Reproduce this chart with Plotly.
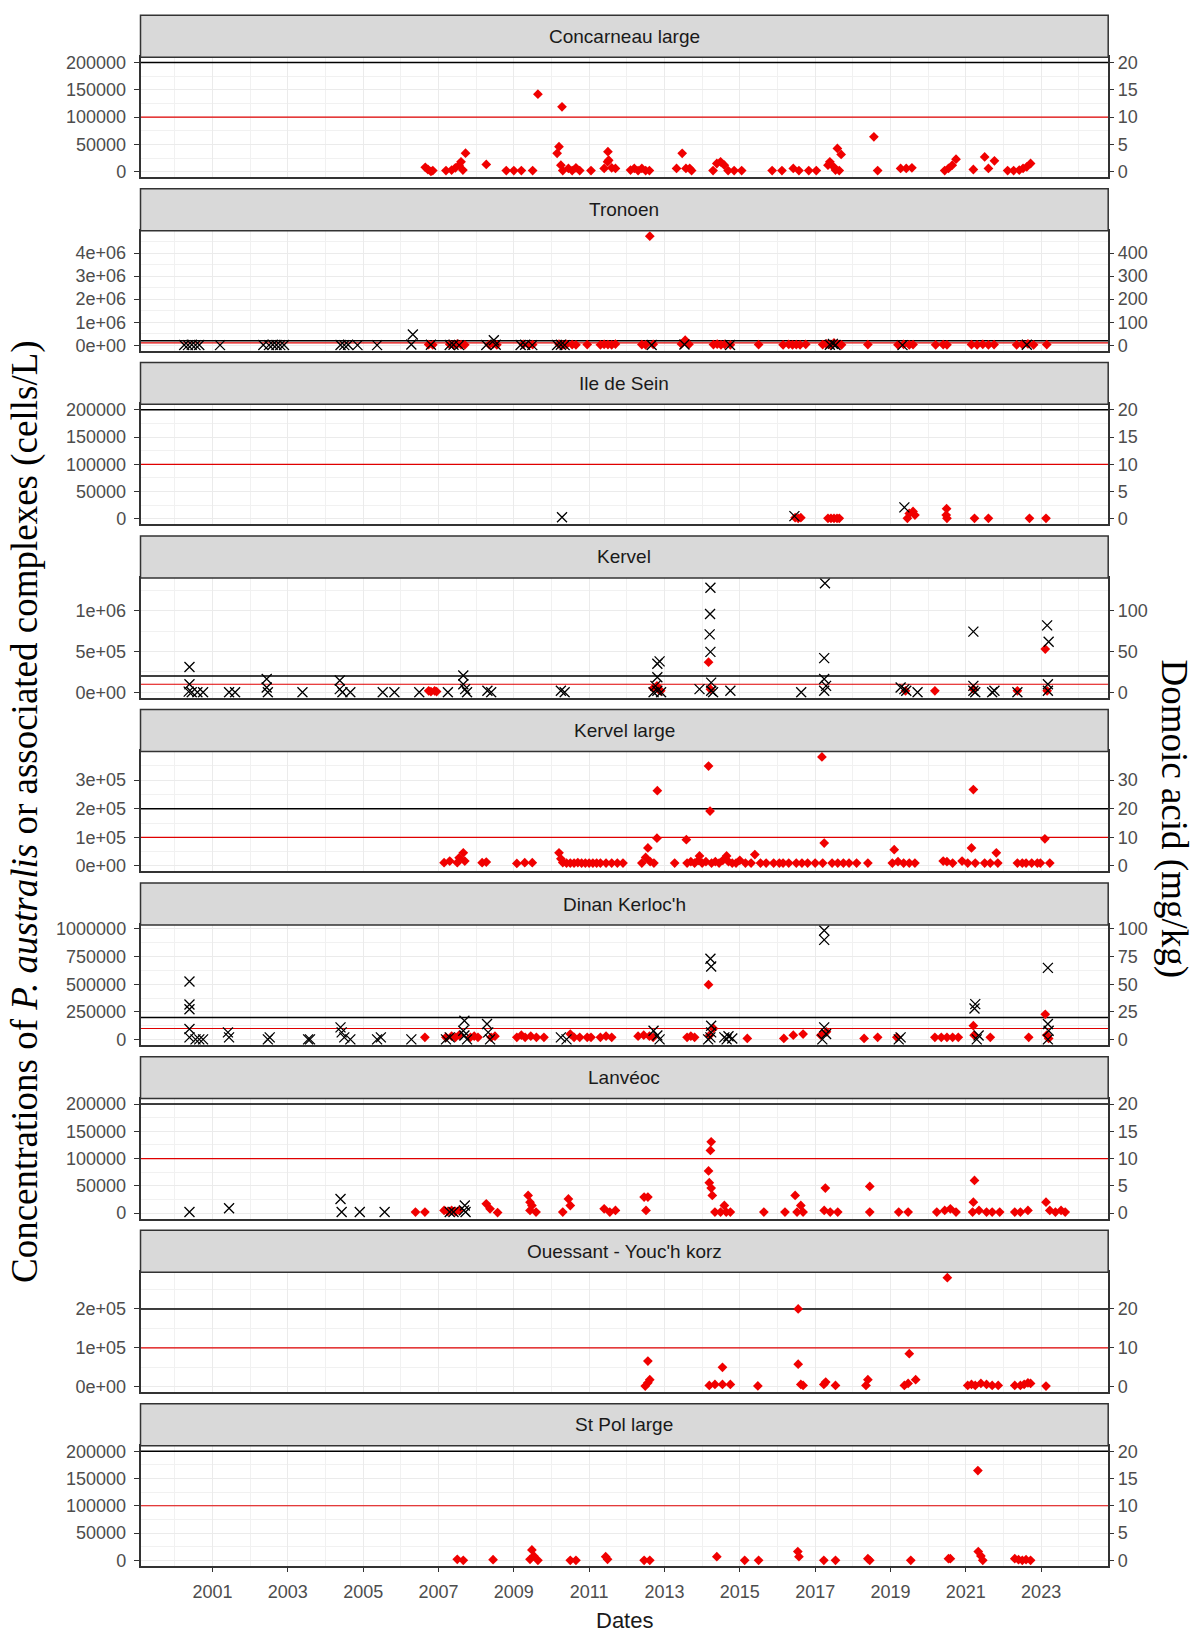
import numpy as np
import pandas as pd
import plotly.graph_objects as go

# ---------------------------------------------------------------------------
# Thresholds
CELL_THRESHOLD = 100000      # cells/L alert level (red line)
DA_THRESHOLD = 20            # mg/kg regulatory limit (black line)
DA_SCALE = 10000             # cells/L per mg/kg on the secondary axis

# ---------------------------------------------------------------------------
# Concarneau large
CONC_CELL_T = [2006.65, 2006.72, 2006.8, 2006.85, 2007.2, 2007.35, 2007.45, 2007.55, 2007.6, 2007.65, 2007.72,
               2008.27, 2008.8, 2009.0, 2009.2, 2009.5, 2009.64, 2010.15, 2010.2, 2010.28, 2010.25, 2010.3,
               2010.45, 2010.55, 2010.65, 2010.75, 2011.05, 2011.4, 2011.49, 2011.5, 2011.52, 2011.6, 2011.7,
               2012.1, 2012.2, 2012.3, 2012.4, 2012.5, 2012.6, 2013.32, 2013.47, 2013.57, 2013.67, 2013.72,
               2014.29, 2014.39, 2014.49, 2014.59, 2014.69, 2014.85, 2015.05, 2015.86, 2016.12, 2016.42,
               2016.57, 2016.83, 2017.03, 2017.34, 2017.39, 2017.49, 2017.59, 2017.69, 2017.54, 2017.64,
               2018.56, 2018.66, 2019.27, 2019.42, 2019.57, 2020.44, 2020.54, 2020.64, 2020.74, 2021.2,
               2021.5, 2021.6, 2021.76, 2022.11, 2022.27, 2022.42, 2022.52, 2022.62, 2022.72]
CONC_CELL_V = [8000, 4000, 500, 2000, 2000, 3000, 7000, 12000, 18000, 3000, 34000,
               13400, 2000, 2000, 2000, 2000, 142000, 33600, 45800, 119000, 12000, 2000,
               6000, 2000, 7000, 2000, 2000, 6000, 18000, 36600, 21000, 7000, 6000,
               3000, 6000, 2000, 6000, 2000, 2000, 6000, 33600, 6000, 6000, 2000,
               2000, 15000, 18000, 12000, 2000, 2000, 2000, 2000, 2000, 6000,
               2000, 2000, 2000, 12000, 18000, 9000, 42700, 31700, 3000, 2000,
               64000, 2000, 6000, 6000, 7000, 2000, 6000, 12000, 23000, 4000,
               27000, 6000, 20000, 2000, 2000, 3000, 6000, 9000, 15000]
CONC_DA_T = []
CONC_DA_V = []

# Tronoen
TRON_CELL_T = [2006.74, 2006.85, 2007.3, 2007.4, 2007.5, 2007.6, 2007.7, 2008.35, 2008.45, 2008.55,
               2009.25, 2009.4, 2009.5, 2010.2, 2010.3, 2010.4, 2010.55, 2010.65, 2010.95,
               2011.3, 2011.4, 2011.5, 2011.6, 2011.7, 2012.4, 2012.5, 2012.61, 2012.7,
               2013.45, 2013.55, 2013.65, 2014.3, 2014.4, 2014.5, 2014.6, 2014.75, 2015.5,
               2016.15, 2016.3, 2016.4, 2016.5, 2016.6, 2016.75, 2017.2, 2017.3, 2017.4, 2017.5,
               2017.6, 2017.7, 2018.4, 2019.2, 2019.35, 2019.5, 2019.6, 2020.2, 2020.4, 2020.5,
               2021.15, 2021.3, 2021.45, 2021.6, 2021.75, 2022.35, 2022.5, 2022.65, 2022.8, 2023.15]
TRON_CELL_V = [30000, 20000, 40000, 20000, 60000, 30000, 20000, 30000, 60000, 20000,
               40000, 20000, 30000, 50000, 20000, 40000, 30000, 20000, 30000,
               20000, 40000, 30000, 20000, 50000, 30000, 20000, 4730000, 40000,
               60000, 218000, 40000, 30000, 50000, 20000, 40000, 20000, 30000,
               20000, 40000, 20000, 30000, 20000, 40000, 30000, 60000, 20000, 100000,
               40000, 20000, 30000, 20000, 40000, 20000, 30000, 20000, 30000, 20000,
               30000, 20000, 40000, 20000, 30000, 20000, 40000, 60000, 20000, 30000]
TRON_DA_T = [2000.25, 2000.35, 2000.45, 2000.55, 2000.65, 2001.2, 2002.35, 2002.5, 2002.6, 2002.7,
             2002.8, 2002.9, 2004.4, 2004.5, 2004.6, 2004.85, 2005.37, 2006.28, 2006.32, 2006.8,
             2007.3, 2007.4, 2007.55, 2008.27, 2008.47, 2008.52, 2009.18, 2009.3, 2009.49,
             2010.15, 2010.25, 2010.35, 2012.66, 2013.53, 2014.74, 2017.39, 2017.47, 2017.54,
             2019.32, 2022.62]
TRON_DA_V = [1, 0.5, 2, 0.5, 1, 0.5, 1, 0.5, 2, 1,
             0.5, 1, 1, 0.5, 2, 0.5, 0.5, 3, 46.5, 2,
             1, 2, 0.5, 1, 22, 2, 1, 2, 0.5,
             1, 2, 0.5, 1, 3, 1, 2, 6, 1,
             0.5, 2]

# Ile de Sein
SEIN_CELL_T = [2016.47, 2016.55, 2016.62, 2017.34, 2017.42, 2017.5, 2017.58, 2017.64, 2019.5, 2019.6,
               2019.45, 2019.65, 2020.49, 2020.5, 2020.48, 2021.23, 2021.6, 2022.69, 2023.13]
SEIN_CELL_V = [2000, 1000, 2000, 1000, 1000, 1000, 1000, 1000, 10000, 13500,
               1000, 7000, 18500, 1000, 7000, 1000, 1000, 1000, 1000]
SEIN_DA_T = [2010.28, 2016.45, 2019.37]
SEIN_DA_V = [0.3, 0.5, 2.1]

# Kervel
KERV_CELL_T = [2006.74, 2006.8, 2006.9, 2006.95, 2012.7, 2012.8, 2012.85, 2012.9, 2014.17, 2014.22,
               2019.4, 2020.18, 2021.2, 2022.37, 2023.11, 2023.16]
KERV_CELL_V = [20000, 10000, 20000, 10000, 50000, 80000, 30000, 20000, 370000, 40000,
               20000, 20000, 40000, 20000, 530000, 20000]
KERV_DA_T = [2000.39, 2000.39, 2000.37, 2000.45, 2000.6, 2000.75, 2001.44, 2001.6, 2002.44, 2002.44,
             2002.47, 2003.39, 2004.38, 2004.38, 2004.45, 2004.66, 2005.52, 2005.83, 2006.49, 2007.25,
             2007.66, 2007.66, 2007.71, 2007.76, 2008.3, 2008.4, 2010.25, 2010.35, 2012.81, 2012.87,
             2012.81, 2012.76, 2012.81, 2012.91, 2012.71, 2013.93, 2014.22, 2014.21, 2014.2, 2014.22,
             2014.24, 2014.24, 2014.29, 2014.75, 2016.63, 2017.26, 2017.24, 2017.24, 2017.29, 2017.24,
             2019.27, 2019.37, 2019.42, 2019.72, 2021.2, 2021.2, 2021.2, 2021.25, 2021.7, 2021.76,
             2022.37, 2023.16, 2023.2, 2023.18, 2023.18]
KERV_DA_V = [31, 10, 1, 0.2, 0.2, 0.2, 0.2, 0.2, 16.5, 6,
             0.2, 0.2, 14.5, 4, 0.2, 0.2, 0.2, 0.2, 0.2, 0.2,
             20.7, 10, 4, 0.2, 2, 0.2, 2, 0.2, 35, 38,
             18.6, 8, 2, 0.2, 0.2, 4, 128, 96, 71, 49.6,
             12, 2, 0.2, 2, 0.2, 133.5, 42, 16.5, 8, 2,
             6, 4, 2, 0.2, 74.4, 8, 2, 0.2, 0.2, 2,
             0.2, 82, 62, 10, 2]

# Kervel large
KLRG_CELL_T = [2007.15, 2007.3, 2007.5, 2007.66, 2007.7, 2007.55, 2008.16, 2008.27, 2009.08, 2009.29,
               2009.49, 2010.2, 2010.25, 2010.3, 2010.4, 2010.5, 2010.6, 2010.7, 2010.8, 2010.9,
               2011.0, 2011.1, 2011.2, 2011.3, 2011.45, 2011.6, 2011.75, 2011.9, 2012.4, 2012.5,
               2012.56, 2012.62, 2012.72, 2012.8, 2012.81, 2013.27, 2013.58, 2013.6, 2013.7, 2013.8,
               2013.9, 2013.93, 2014.0, 2014.1, 2014.17, 2014.21, 2014.25, 2014.35, 2014.45, 2014.55,
               2014.65, 2014.7, 2014.8, 2014.9, 2015.0, 2015.15, 2015.3, 2015.4, 2015.55, 2015.7,
               2015.9, 2016.05, 2016.15, 2016.3, 2016.5, 2016.65, 2016.8, 2017.0, 2017.18, 2017.24,
               2017.2, 2017.45, 2017.6, 2017.75, 2017.9, 2018.1, 2018.4, 2019.05, 2019.1, 2019.2,
               2019.35, 2019.5, 2019.65, 2020.4, 2020.5, 2020.65, 2020.9, 2021.05, 2021.15, 2021.2,
               2021.25, 2021.5, 2021.65, 2021.81, 2021.85, 2022.37, 2022.5, 2022.6, 2022.75, 2022.9,
               2022.98, 2023.1, 2023.23]
KLRG_CELL_V = [11500, 17000, 11500, 46000, 17000, 28600, 11500, 13700, 9000, 11500,
               11500, 46000, 25000, 12000, 10000, 10000, 10000, 12000, 10000, 10000,
               10000, 10000, 10000, 10000, 10000, 10000, 10000, 10000, 10000, 30000,
               63000, 15000, 10000, 97000, 263000, 10000, 92000, 10000, 15000, 10000,
               20000, 35000, 10000, 15000, 349000, 192000, 10000, 15000, 10000, 20000,
               35000, 15000, 10000, 10000, 20000, 10000, 10000, 40000, 10000, 10000,
               10000, 10000, 10000, 10000, 10000, 10000, 10000, 10000, 381000, 80000,
               10000, 10000, 10000, 10000, 10000, 10000, 10000, 10000, 57000, 15000,
               10000, 10000, 10000, 17000, 15000, 10000, 17000, 10000, 63000, 267000,
               10000, 10000, 10000, 46000, 10000, 10000, 10000, 10000, 10000, 10000,
               10000, 95000, 10000]
KLRG_DA_T = []
KLRG_DA_V = []

# Dinan Kerloc'h
DINA_CELL_T = [2006.64, 2007.2, 2007.35, 2007.45, 2007.55, 2007.85, 2007.95, 2008.05, 2008.4, 2008.5,
               2009.08, 2009.2, 2009.3, 2009.45, 2009.6, 2009.8, 2010.5, 2010.6, 2010.75, 2010.95,
               2011.05, 2011.3, 2011.45, 2011.6, 2012.3, 2012.45, 2012.6, 2012.7, 2013.6, 2013.7,
               2013.8, 2014.17, 2014.2, 2014.3, 2015.2, 2016.17, 2016.42, 2016.68, 2017.15, 2017.3,
               2018.3, 2018.66, 2019.17, 2020.18, 2020.35, 2020.5, 2020.65, 2020.8, 2021.2, 2021.22,
               2021.65, 2022.67, 2023.11, 2023.15, 2023.2]
DINA_CELL_V = [20000, 20000, 30000, 20000, 40000, 20000, 30000, 20000, 20000, 30000,
               20000, 40000, 20000, 30000, 20000, 20000, 50000, 20000, 20000, 20000,
               20000, 20000, 30000, 20000, 30000, 40000, 30000, 20000, 20000, 30000,
               20000, 496000, 40000, 100000, 10000, 10000, 40000, 50000, 40000, 70000,
               10000, 20000, 20000, 20000, 20000, 20000, 20000, 20000, 125000, 40000,
               20000, 20000, 228000, 40000, 10000]
DINA_DA_T = [2000.39, 2000.39, 2000.39, 2000.39, 2000.39, 2000.55, 2000.65, 2000.75, 2001.41, 2001.44,
             2002.47, 2002.52, 2003.54, 2003.59, 2004.4, 2004.43, 2004.5, 2004.66, 2005.37, 2005.47,
             2006.28, 2007.2, 2007.3, 2007.69, 2007.66, 2007.69, 2007.76, 2008.29, 2008.32, 2008.37,
             2010.25, 2010.4, 2012.71, 2012.81, 2012.87, 2014.22, 2014.24, 2014.24, 2014.24, 2014.22,
             2014.16, 2014.59, 2014.65, 2014.7, 2014.8, 2017.24, 2017.24, 2017.24, 2017.29, 2017.19,
             2019.22, 2019.27, 2021.25, 2021.23, 2021.29, 2021.34, 2023.18, 2023.18, 2023.2, 2023.18]
DINA_DA_V = [52.5, 31.7, 27.3, 9.5, 2, 0.2, 0.2, 0.2, 6.5, 2,
             0.2, 2, 0.2, 0.2, 11, 6.5, 2, 0.2, 0.2, 2,
             0.2, 0.2, 2, 17, 8, 3.6, 0.2, 14, 6.5, 0.2,
             2, 0.2, 8, 3.6, 0.2, 73, 66, 12.5, 6.5, 2,
             0.2, 2, 0.2, 3, 1, 98.5, 90, 11, 5, 0.2,
             0.2, 2, 32, 28, 0.2, 3.6, 64.7, 14, 8, 0.2]

# Lanveoc
LANV_CELL_T = [2006.39, 2006.64, 2007.15, 2007.25, 2007.35, 2007.45, 2007.55, 2008.27, 2008.37, 2008.57,
               2009.38, 2009.43, 2009.48, 2009.43, 2009.59, 2010.45, 2010.5, 2010.3, 2011.4, 2011.55,
               2011.7, 2012.46, 2012.56, 2012.51, 2014.24, 2014.22, 2014.17, 2014.19, 2014.24, 2014.27,
               2014.34, 2014.49, 2014.59, 2014.64, 2014.75, 2015.64, 2016.2, 2016.47, 2016.52, 2016.62,
               2016.68, 2017.27, 2017.24, 2017.4, 2017.6, 2018.45, 2018.45, 2019.22, 2019.47, 2020.23,
               2020.44, 2020.59, 2020.74, 2021.23, 2021.2, 2021.18, 2021.35, 2021.55, 2021.7, 2021.9,
               2022.3, 2022.45, 2022.65, 2023.13, 2023.23, 2023.38, 2023.53, 2023.64]
LANV_CELL_V = [2000, 2000, 5000, 3000, 5000, 3000, 5000, 17000, 8000, 1000,
               32500, 20000, 14000, 5000, 2000, 26000, 14000, 2000, 8000, 2000,
               5000, 29500, 29500, 5000, 130800, 115000, 77300, 55800, 46000, 32500,
               2000, 2000, 14000, 2000, 2000, 2000, 2000, 32500, 2000, 14000,
               2000, 46000, 5000, 2000, 2000, 49000, 2000, 2000, 2000, 2000,
               5000, 8000, 2000, 60000, 20000, 2000, 5000, 2000, 2000, 2000,
               2000, 2000, 5000, 20000, 5000, 2000, 5000, 2000]
LANV_DA_T = [2000.39, 2001.44, 2004.4, 2004.43, 2004.91, 2005.57, 2007.3, 2007.4, 2007.7, 2007.68, 2007.72]
LANV_DA_V = [0.2, 0.9, 2.6, 0.2, 0.2, 0.2, 0.2, 0.2, 1.4, 0.5, 0.2]

# Ouessant - Youc'h korz
OUES_CELL_T = [2012.49, 2012.56, 2012.61, 2012.56, 2014.19, 2014.34, 2014.54, 2014.75, 2014.54, 2015.48,
               2016.55, 2016.55, 2016.62, 2016.68, 2017.23, 2017.28, 2017.54, 2018.35, 2018.4, 2019.37,
               2019.47, 2019.5, 2019.67, 2020.51, 2021.05, 2021.15, 2021.25, 2021.4, 2021.55, 2021.7,
               2021.86, 2022.3, 2022.45, 2022.55, 2022.65, 2022.72, 2023.13]
OUES_CELL_V = [1700, 10000, 18000, 66000, 3300, 5800, 5800, 5800, 50000, 2000,
               58000, 200000, 5800, 3300, 5800, 12000, 3300, 3300, 18000, 3300,
               8300, 85000, 18000, 280600, 3300, 5800, 3300, 8300, 5800, 3300,
               3300, 3300, 3300, 5800, 10000, 8300, 1700]
OUES_DA_T = []
OUES_DA_V = []

# St Pol large
SPOL_CELL_T = [2007.5, 2007.66, 2008.45, 2009.43, 2009.48, 2009.53, 2009.64, 2010.5, 2010.65, 2011.44,
               2011.49, 2012.46, 2012.61, 2014.39, 2015.13, 2015.5, 2016.54, 2016.57, 2017.23, 2017.54,
               2018.4, 2018.45, 2019.54, 2020.54, 2020.59, 2021.32, 2021.33, 2021.4, 2021.45, 2022.3,
               2022.4, 2022.5, 2022.6, 2022.72]
SPOL_CELL_V = [1800, 0, 1000, 1800, 19000, 8000, 0, 0, 0, 6700,
               1800, 0, 0, 6700, 0, 0, 16000, 6700, 0, 0,
               3000, 0, 0, 3000, 3000, 164600, 16000, 8000, 0, 3000,
               1000, 0, 1000, 0]
SPOL_DA_T = []
SPOL_DA_V = []

# Facet labels and the tick labels each free y scale shows
SITE_NAMES = ["Concarneau large", "Tronoen", "Ile de Sein", "Kervel", "Kervel large",
              "Dinan Kerloc'h", "Lanvéoc", "Ouessant - Youc'h korz", "St Pol large"]
SITE_DATA = [
    (CONC_CELL_T, CONC_CELL_V, CONC_DA_T, CONC_DA_V),
    (TRON_CELL_T, TRON_CELL_V, TRON_DA_T, TRON_DA_V),
    (SEIN_CELL_T, SEIN_CELL_V, SEIN_DA_T, SEIN_DA_V),
    (KERV_CELL_T, KERV_CELL_V, KERV_DA_T, KERV_DA_V),
    (KLRG_CELL_T, KLRG_CELL_V, KLRG_DA_T, KLRG_DA_V),
    (DINA_CELL_T, DINA_CELL_V, DINA_DA_T, DINA_DA_V),
    (LANV_CELL_T, LANV_CELL_V, LANV_DA_T, LANV_DA_V),
    (OUES_CELL_T, OUES_CELL_V, OUES_DA_T, OUES_DA_V),
    (SPOL_CELL_T, SPOL_CELL_V, SPOL_DA_T, SPOL_DA_V),
]
TICKS_PLAIN = [0, 50000, 100000, 150000, 200000]
LABELS_PLAIN = ["0", "50000", "100000", "150000", "200000"]
Y_TICKS = [
    (TICKS_PLAIN, LABELS_PLAIN),
    ([0, 1e6, 2e6, 3e6, 4e6], ["0e+00", "1e+06", "2e+06", "3e+06", "4e+06"]),
    (TICKS_PLAIN, LABELS_PLAIN),
    ([0, 5e5, 1e6], ["0e+00", "5e+05", "1e+06"]),
    ([0, 1e5, 2e5, 3e5], ["0e+00", "1e+05", "2e+05", "3e+05"]),
    ([0, 250000, 500000, 750000, 1000000], ["0", "250000", "500000", "750000", "1000000"]),
    (TICKS_PLAIN, LABELS_PLAIN),
    ([0, 1e5, 2e5], ["0e+00", "1e+05", "2e+05"]),
    (TICKS_PLAIN, LABELS_PLAIN),
]
YEAR_TICKS = list(range(2001, 2024, 2))
YEAR_MINOR = list(range(2000, 2025, 2))
X_LIMITS = (1999.09, 2024.78)

# ---------------------------------------------------------------------------
W, H = 1197, 1636
PX_LEFT, PX_RIGHT = 140.5, 1108.2
TOP0, PITCH, STRIP_H, PLOT_H = 9.3, 174.75, 42.2, 120.8

TICK_FONT = dict(family="Liberation Sans", size=18, color="#4D4D4D")
GRID = "#EBEBEB"
MINOR_GRID = "#F1F1F1"
BORDER = "#333333"


def to_dates(years):
    out = []
    for y in years:
        yi = int(np.floor(y))
        start, end = pd.Timestamp(yi, 1, 1), pd.Timestamp(yi + 1, 1, 1)
        out.append(start + (end - start) * (y - yi))
    return out


def yf(px):
    return 1 - px / H


xd = [PX_LEFT / W, PX_RIGHT / W]
xrange = to_dates(X_LIMITS)

fig = go.Figure()
layout = dict(width=W, height=H, margin=dict(l=0, r=0, t=0, b=0),
              paper_bgcolor="white", plot_bgcolor="white", showlegend=False)
shapes, annotations = [], []

for i, (name, (ct, cv, dt, dv), (tv, tt)) in enumerate(zip(SITE_NAMES, SITE_DATA, Y_TICKS)):
    xa = "x" if i == 0 else f"x{i + 1}"
    ya_p = "y" if i == 0 else f"y{2 * i + 1}"
    ya_s = f"y{2 * i + 2}"
    strip_top = TOP0 + i * PITCH
    strip_bot = strip_top + STRIP_H
    plot_bot = strip_bot + PLOT_H

    ymax = max([max(cv) if cv else 0,
                (max(dv) * DA_SCALE) if dv else 0,
                DA_THRESHOLD * DA_SCALE])
    yr = [-0.05 * ymax, 1.05 * ymax]
    step = tv[1] - tv[0]
    minor_vals = [tv[0] + (k + 0.5) * step for k in range(-1, 20)
                  if yr[0] <= tv[0] + (k + 0.5) * step <= yr[1]]

    last = i == len(SITE_NAMES) - 1
    xaxis = dict(
        domain=xd, anchor=ya_p, range=xrange, type="date",
        tickvals=to_dates(YEAR_TICKS), ticktext=[str(y) for y in YEAR_TICKS],
        showticklabels=last, ticks="outside" if last else "",
        ticklen=5, tickwidth=1.2, tickcolor=BORDER, tickfont=TICK_FONT,
        ticklabelstandoff=4,
        showgrid=True, gridcolor=GRID, gridwidth=1,
        minor=dict(tickvals=to_dates(YEAR_MINOR), showgrid=True, gridcolor=MINOR_GRID,
                   gridwidth=1, ticks=""),
        showline=True, mirror=True, linecolor=BORDER, linewidth=1.5, zeroline=False,
    )
    if i > 0:
        xaxis["matches"] = "x"
    layout["xaxis" if i == 0 else f"xaxis{i + 1}"] = xaxis
    layout["yaxis" if i == 0 else f"yaxis{2 * i + 1}"] = dict(
        domain=[yf(plot_bot), yf(strip_bot)], anchor=xa, range=yr,
        tickvals=tv, ticktext=tt, ticks="outside", ticklen=5, tickwidth=1.2,
        tickcolor=BORDER, tickfont=TICK_FONT, ticklabelstandoff=4,
        showgrid=True, gridcolor=GRID, gridwidth=1,
        minor=dict(tickvals=minor_vals, showgrid=True, gridcolor=MINOR_GRID, gridwidth=1, ticks=""),
        showline=True, mirror=True, linecolor=BORDER, linewidth=1.5, zeroline=False,
    )
    layout[f"yaxis{2 * i + 2}"] = dict(
        overlaying=ya_p, side="right", anchor=xa,
        range=[v / DA_SCALE for v in yr],
        tickvals=[v / DA_SCALE for v in tv], ticktext=[f"{v / DA_SCALE:g}" for v in tv],
        ticks="outside", ticklen=5, tickwidth=1.2, tickcolor=BORDER, tickfont=TICK_FONT,
        ticklabelstandoff=0, showgrid=False, showline=False, zeroline=False,
    )

    # threshold lines across the whole panel
    fig.add_trace(go.Scatter(
        x=xrange, y=[CELL_THRESHOLD] * 2, mode="lines", xaxis=xa, yaxis=ya_p,
        line=dict(color="#E00000", width=1.2), hoverinfo="skip", cliponaxis=True))
    fig.add_trace(go.Scatter(
        x=xrange, y=[DA_THRESHOLD * DA_SCALE] * 2, mode="lines", xaxis=xa, yaxis=ya_p,
        line=dict(color="black", width=1.5), hoverinfo="skip", cliponaxis=True))
    # cell counts (left axis)
    fig.add_trace(go.Scatter(
        x=to_dates(ct), y=cv, mode="markers", xaxis=xa, yaxis=ya_p,
        marker=dict(symbol="diamond", size=7.5, color="#F00000", line=dict(width=0)),
        hoverinfo="skip"))
    # domoic acid (right axis)
    fig.add_trace(go.Scatter(
        x=to_dates(dt), y=dv, mode="markers", xaxis=xa, yaxis=ya_s,
        marker=dict(symbol="x-thin", size=10, color="black", line=dict(width=1.3, color="black")),
        hoverinfo="skip"))

    # facet strip
    shapes.append(dict(type="rect", xref="paper", yref="paper",
                       x0=xd[0], x1=xd[1], y0=yf(strip_bot), y1=yf(strip_top),
                       fillcolor="#D9D9D9", line=dict(color=BORDER, width=1.5)))
    annotations.append(dict(text=name, xref="paper", yref="paper",
                            x=(xd[0] + xd[1]) / 2, y=yf((strip_top + strip_bot) / 2),
                            showarrow=False, xanchor="center", yanchor="middle",
                            font=dict(family="Liberation Sans", size=19, color="#1A1A1A")))

annotations.append(dict(
    text="Concentrations of <i>P. australis</i> or associated complexes (cells/L)",
    xref="paper", yref="paper", x=25 / W, y=yf(811.5), textangle=-90,
    showarrow=False, xanchor="center", yanchor="middle",
    font=dict(family="Liberation Serif", size=37, color="black")))
annotations.append(dict(
    text="Domoic acid (mg/kg)", xref="paper", yref="paper", x=1174 / W, y=yf(818),
    textangle=90, showarrow=False, xanchor="center", yanchor="middle",
    font=dict(family="Liberation Serif", size=37, color="black")))
annotations.append(dict(
    text="Dates", xref="paper", yref="paper", x=624 / W, y=yf(1625),
    showarrow=False, xanchor="center", yanchor="middle",
    font=dict(family="Liberation Sans", size=22, color="#1A1A1A")))

layout["shapes"] = shapes
layout["annotations"] = annotations
fig.update_layout(**layout)
fig.write_html("out.html")
